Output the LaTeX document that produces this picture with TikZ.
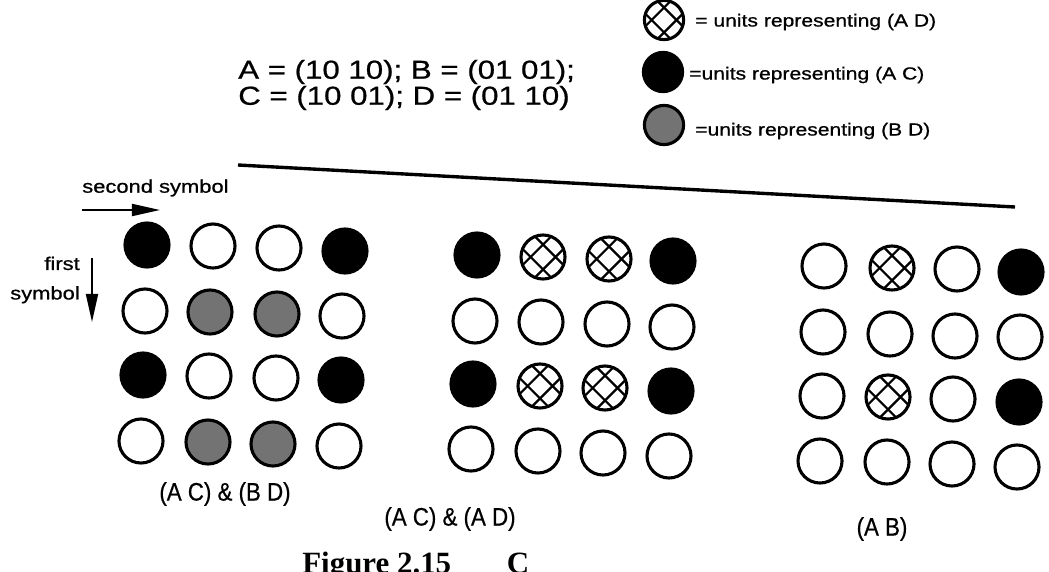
\documentclass[tikz,border=0pt]{standalone}
\usepackage{fontspec}
\setmainfont{Liberation Sans}
\newfontfamily\widesans[FakeStretch=1.2, FakeBold=0.8]{Liberation Sans}
\newfontfamily\narrowsans[FakeStretch=0.88, FakeBold=0.6]{Liberation Sans}
\newfontfamily\capserif{Liberation Serif}
\usetikzlibrary{arrows.meta}

\begin{document}
\begin{tikzpicture}[x=0.025cm, y=-0.025cm, >={Triangle[length=0.7cm, width=0.3cm]},
  unit/.style={circle, draw=black, line width=2.2pt, fill=white, inner sep=0pt, minimum size=1.1cm},
  full/.style={unit, fill=black},
  stipple/.style={unit, fill=black!55},
  hatch/.style={unit, path picture={
    \foreach \k in {-0.5,0.5} {
      \draw[line width=1.6pt] ([shift={(\k*0.62cm-1cm,-1cm)}]path picture bounding box.center) -- ++(2cm,2cm);
      \draw[line width=1.6pt] ([shift={(\k*0.62cm-1cm,1cm)}]path picture bounding box.center) -- ++(2cm,-2cm);
    }}},
  key/.style={minimum size=0.98cm},
  keytext/.style={anchor=west, inner sep=0pt, font=\widesans\fontsize{12.5pt}{15pt}\selectfont},
  gridlabel/.style={inner sep=0pt, font=\narrowsans\fontsize{18pt}{20pt}\selectfont}]
\useasboundingbox (0,0) rectangle (1049,571);
\clip (0,0) rectangle (1049,571);

% codes and key
\node[anchor=west, align=left, inner sep=0pt, font=\widesans\fontsize{18.5pt}{18.5pt}\selectfont] (codes) at (238,85) {A = (10 10); B = (01 01);\\C = (10 01); D = (01 10)};
\node[hatch, key] (keyAD) at (664,20) {};
\node[full, key] (keyAC) at (663,72) {};
\node[stipple, key] (keyBD) at (664,125) {};
\node[keytext] (txtAD) at (695,22) {= units representing (A D)};
\node[keytext] (txtAC) at (689,75) {=units representing (A C)};
\node[keytext] (txtBD) at (695,131) {=units representing (B D)};
\coordinate (ruleL) at (238,165);
\coordinate (ruleR) at (1015,207);
\draw[line width=2.4pt] (ruleL) -- (ruleR);

% axes
\node[anchor=west, inner sep=0pt, font=\widesans\fontsize{13pt}{15pt}\selectfont] (second) at (82,188) {second symbol};
\node[anchor=east, align=right, inner sep=0pt, font=\widesans\fontsize{13pt}{21pt}\selectfont] (first) at (80,280) {first\\symbol};
\coordinate (secA) at (82,210);
\coordinate (secB) at (160,210);
\coordinate (firA) at (92,258);
\coordinate (firB) at (92,322);
\draw[->, line width=1.3pt] (secA) -- (secB);
\draw[->, line width=1.3pt] (firA) -- (firB);

% (A C) & (B D)
\node[full] (l11) at (147,245) {};
\node[unit] (l12) at (213,246) {};
\node[unit] (l13) at (279,248) {};
\node[full] (l14) at (345,251) {};
\node[unit] (l21) at (145,311) {};
\node[stipple] (l22) at (210,312) {};
\node[stipple] (l23) at (277,314) {};
\node[unit] (l24) at (342,316) {};
\node[full] (l31) at (143,375) {};
\node[unit] (l32) at (209,376) {};
\node[unit] (l33) at (276,378) {};
\node[full] (l34) at (341,380) {};
\node[unit] (l41) at (141,441) {};
\node[stipple] (l42) at (208,442) {};
\node[stipple] (l43) at (273,444) {};
\node[unit] (l44) at (339,446) {};
\node[gridlabel] (labL) at (225,494) {(A C) \& (B D)};

% (A C) & (A D)
\node[full] (m11) at (477,255) {};
\node[hatch] (m12) at (543,257) {};
\node[hatch] (m13) at (609,259) {};
\node[full] (m14) at (673,261) {};
\node[unit] (m21) at (475,321) {};
\node[unit] (m22) at (541,322) {};
\node[unit] (m23) at (607,324) {};
\node[unit] (m24) at (672,327) {};
\node[full] (m31) at (473,384) {};
\node[hatch] (m32) at (540,386) {};
\node[hatch] (m33) at (605,388) {};
\node[full] (m34) at (671,391) {};
\node[unit] (m41) at (471,449) {};
\node[unit] (m42) at (538,451) {};
\node[unit] (m43) at (603,453) {};
\node[unit] (m44) at (669,456) {};
\node[gridlabel] (labM) at (450,519) {(A C) \& (A D)};

% (A B)
\node[unit] (r11) at (824,266) {};
\node[hatch] (r12) at (892,268) {};
\node[unit] (r13) at (957,269) {};
\node[full] (r14) at (1021,272) {};
\node[unit] (r21) at (823,332) {};
\node[unit] (r22) at (890,334) {};
\node[unit] (r23) at (955,336) {};
\node[unit] (r24) at (1020,337) {};
\node[unit] (r31) at (822,396) {};
\node[hatch] (r32) at (888,397) {};
\node[unit] (r33) at (953,399) {};
\node[full] (r34) at (1019,402) {};
\node[unit] (r41) at (820,461) {};
\node[unit] (r42) at (887,462) {};
\node[unit] (r43) at (952,464) {};
\node[unit] (r44) at (1017,467) {};
\node[gridlabel] (labR) at (882,529) {(A B)};

% caption, cut by the page edge
\node[anchor=base west, inner sep=0pt, font=\capserif\bfseries\fontsize{22pt}{24pt}\selectfont] (caption) at (302,573) {Figure 2.15\hspace{1.8em}C};
\end{tikzpicture}
\end{document}
